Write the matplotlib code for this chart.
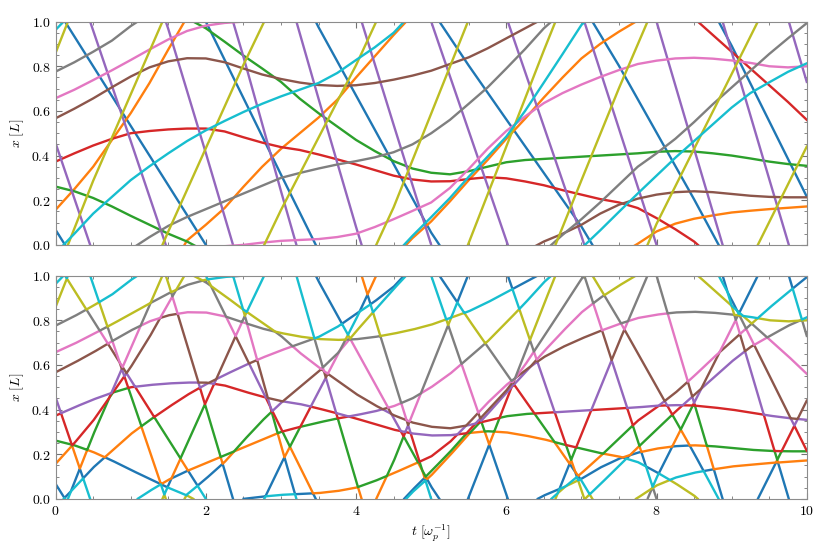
import numpy as np
import matplotlib
matplotlib.use("Agg")
import matplotlib.pyplot as plt
from matplotlib.ticker import MultipleLocator, FuncFormatter

plt.rcParams['mathtext.fontset'] = 'cm'
plt.rcParams['font.family'] = 'serif'
plt.rcParams['font.serif'] = ['DejaVu Serif']

# sample times [1/omega_p]: coarse for the fast streaming sheets, finer for the slow ones
t_fast = np.arange(0, 10.5, 0.5)
t_slow = np.arange(0, 10.25, 0.25)

# unwrapped sheet positions [L]
blue   = [0.067, -0.2, -0.467, -0.733, -1.0, -1.342, -1.685, -2.025, -2.331, -2.638, -2.945,
          -3.197, -3.438, -3.678, -3.918, -4.198, -4.497, -4.796, -5.108, -5.446, -5.784]
purple = [0.455, -0.04, -0.535, -1.033, -1.589, -2.157, -2.759, -3.345, -3.92, -4.462, -5.0,
          -5.49, -5.98, -6.47, -6.96, -7.48, -8.0, -8.57, -9.136, -9.705, -10.27]
olive  = [0.86, 1.287, 1.674, 2.06, 2.433, 2.806, 3.156, 3.48, 3.805, 4.168, 4.588,
          5.009, 5.44, 5.871, 6.289, 6.702, 7.094, 7.43, 7.765, 8.102, 8.44]

orange = [0.157, 0.25, 0.35, 0.47, 0.59, 0.725, 0.875, 1.02,
          1.09, 1.165, 1.26, 1.35, 1.43, 1.50, 1.57, 1.65,
          1.75, 1.845, 1.94, 2.03, 2.105, 2.195, 2.29, 2.38,
          2.475, 2.565, 2.66, 2.75, 2.835, 2.90, 2.955, 3.005,
          3.06, 3.095, 3.117, 3.132, 3.145, 3.153, 3.16, 3.166, 3.172]
green  = [0.261, 0.24, 0.21, 0.172, 0.13, 0.09, 0.05, 0.015,
          -0.03, -0.09, -0.152, -0.21, -0.27, -0.345, -0.41, -0.47,
          -0.53, -0.58, -0.625, -0.658, -0.677, -0.684, -0.67, -0.65,
          -0.63, -0.62, -0.615, -0.61, -0.605, -0.6, -0.595, -0.59,
          -0.583, -0.58, -0.582, -0.59, -0.6, -0.613, -0.627, -0.638, -0.646]
red    = [0.373, 0.41, 0.445, 0.475, 0.50, 0.51, 0.517, 0.521,
          0.521, 0.508, 0.482, 0.458, 0.438, 0.425, 0.405, 0.383,
          0.36, 0.335, 0.31, 0.293, 0.284, 0.285, 0.295, 0.303,
          0.298, 0.284, 0.267, 0.245, 0.225, 0.205, 0.19, 0.165,
          0.12, 0.07, 0.015, -0.06, -0.135, -0.21, -0.285, -0.36, -0.44]
brown  = [0.567, 0.61, 0.656, 0.706, 0.754, 0.795, 0.822, 0.836,
          0.835, 0.818, 0.79, 0.763, 0.743, 0.727, 0.716, 0.712,
          0.715, 0.725, 0.74, 0.758, 0.78, 0.81, 0.84, 0.88,
          0.925, 0.97, 1.015, 1.05, 1.09, 1.14, 1.18, 1.207,
          1.225, 1.236, 1.24, 1.236, 1.228, 1.22, 1.215, 1.213, 1.213]
pink   = [0.657, 0.695, 0.738, 0.782, 0.828, 0.875, 0.92, 0.958,
          0.982, 0.994, 1.0, 1.01, 1.018, 1.022, 1.026, 1.035,
          1.05, 1.08, 1.115, 1.152, 1.19, 1.255, 1.34, 1.43,
          1.51, 1.575, 1.635, 1.68, 1.718, 1.752, 1.783, 1.81,
          1.825, 1.835, 1.838, 1.834, 1.826, 1.815, 1.80, 1.795, 1.80]
gray   = [0.776, 0.818, 0.865, 0.915, 0.98, 1.035, 1.085, 1.125,
          1.16, 1.195, 1.23, 1.265, 1.30, 1.322, 1.342, 1.36,
          1.375, 1.392, 1.415, 1.45, 1.50, 1.56, 1.632, 1.705,
          1.79, 1.877, 1.97, 2.045, 2.115, 2.19, 2.27, 2.35,
          2.41, 2.475, 2.55, 2.63, 2.705, 2.78, 2.855, 2.925, 2.993]
cyan   = [0.963, 1.05, 1.14, 1.215, 1.29, 1.352, 1.41, 1.465,
          1.513, 1.555, 1.595, 1.632, 1.665, 1.695, 1.725, 1.77,
          1.828, 1.885, 1.95, 2.04, 2.124, 2.21, 2.305, 2.395,
          2.485, 2.60, 2.727, 2.855, 2.985, 3.065, 3.148, 3.23,
          3.31, 3.39, 3.465, 3.54, 3.615, 3.68, 3.728, 3.775, 3.813]

sheets = [(t_fast, blue), (t_slow, orange), (t_slow, green), (t_slow, red), (t_fast, purple),
          (t_slow, brown), (t_slow, pink), (t_slow, gray), (t_fast, olive), (t_slow, cyan)]
colors = ['tab:blue', 'tab:orange', 'tab:green', 'tab:red', 'tab:purple',
          'tab:brown', 'tab:pink', 'tab:gray', 'tab:olive', 'tab:cyan']
lw = 1.7

fig = plt.figure(figsize=(8.3, 5.54), dpi=100)
ax1 = fig.add_axes([0.067, 0.558, 0.905, 0.403])
ax2 = fig.add_axes([0.067, 0.0995, 0.905, 0.403])

# top: every sheet folded back into the periodic box
for (ts, u), c in zip(sheets, colors):
    u = np.asarray(u)
    for k in range(int(np.floor(-u.max())), int(np.ceil(-u.min())) + 1):
        ax1.plot(ts, u + k, color=c, lw=lw)

# bottom: sheets swap labels when they cross, so the cyclic order of colours is kept
tf = np.linspace(0, 10, 4001)
U = np.array([np.interp(tf, ts, u) for ts, u in sheets])
ordered = np.sort(U % 1.0, axis=0)
shift = (np.floor(U).sum(axis=0) - np.floor(U[:, 0]).sum()).astype(int)
cols = np.arange(len(tf))
n = len(sheets)
for i, c in enumerate(colors):
    y = ordered[(i + shift) % n, cols].copy()
    jump = np.abs(np.diff(y)) > 0.5
    y[1:][jump] = np.nan
    ax2.plot(tf, y, color=c, lw=lw)

for ax in (ax1, ax2):
    ax.set_xlim(0, 10)
    ax.set_ylim(0, 1)
    ax.xaxis.set_major_locator(MultipleLocator(2))
    ax.xaxis.set_minor_locator(MultipleLocator(0.5))
    ax.yaxis.set_major_locator(MultipleLocator(0.2))
    ax.yaxis.set_minor_locator(MultipleLocator(0.05))
    ax.tick_params(which='both', direction='in', top=True, right=True, color='0.45')
    ax.tick_params(which='major', length=4, labelsize=10)
    ax.tick_params(which='minor', length=2)
    for s in ax.spines.values():
        s.set_color('0.55')
    ax.yaxis.set_major_formatter(FuncFormatter(lambda v, p: r'$%.1f$' % v))
    ax.set_ylabel(r'$x\ [L]$', fontsize=10)

ax1.tick_params(labelbottom=False)
ax2.xaxis.set_major_formatter(FuncFormatter(lambda v, p: r'$%d$' % round(v)))
ax2.set_xlabel(r'$t\ [\omega_p^{-1}]$', fontsize=10)

fig.savefig('out.png', dpi=100)
